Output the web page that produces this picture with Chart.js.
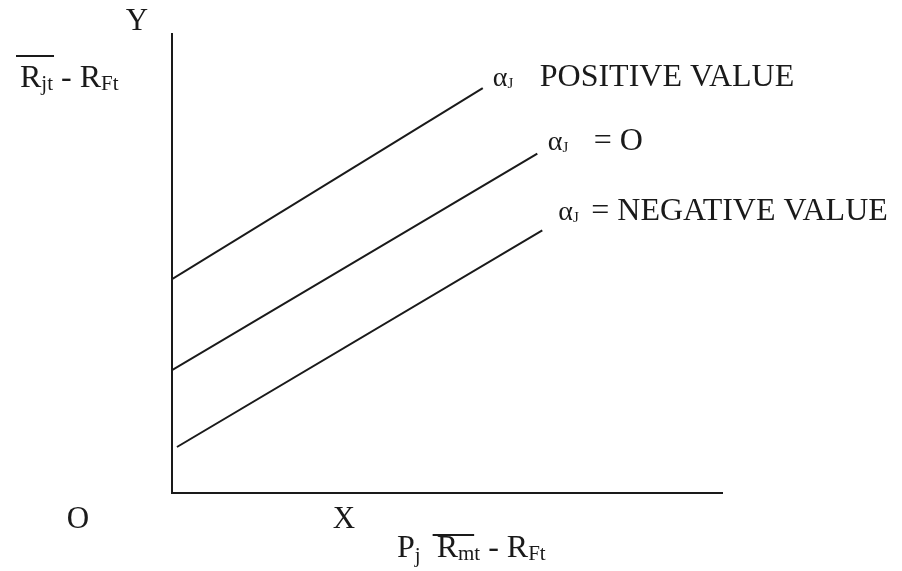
<!DOCTYPE html>
<html>
<head>
<meta charset="utf-8">
<script src="https://cdn.jsdelivr.net/npm/chart.js@4.4.1/dist/chart.umd.min.js"></script>
<style>
  html, body { margin: 0; padding: 0; background: #fff; }
  #wrap { width: 902px; height: 571px; position: relative; }
</style>
</head>
<body>
<div id="wrap"><canvas id="chart"></canvas></div>
<script>
// Characteristic lines for the three alpha cases
const lineKeys = ['positive', 'zero', 'negative'];
const lineStartX = [0, 0, 0.09];
const lineStartY = [4.65, 2.67, 1.00];
const lineEndX = [5.64, 6.63, 6.72];
const lineEndY = [8.80, 7.38, 5.71];
const lineTexts = ['POSITIVE VALUE', '= O', '= NEGATIVE VALUE'];

const axisMaxX = 10;
const axisMaxY = 10;

const SERIF = '"Liberation Serif", "Times New Roman", serif';
const INK = '#1a1a1a';
const MAIN = 31;
const TITLE = 32;
const LABEL = 32;
const SUB = 21;

// alpha label placement relative to the end of each line
const labelOffsets = [
  { dx: 10, dy: -2, textX: 47 },
  { dx: 10.5, dy: -3.5, textX: 46 },
  { dx: 16, dy: -10.5, textX: 33 }
];

// draws a row of text pieces (for subscripts) and returns where the barred part lies
function drawRuns(ctx, x, y, runs) {
  let cx = x;
  let barFrom = null, barTo = null;
  for (const r of runs) {
    ctx.font = r.size + 'px ' + SERIF;
    if (r.bar && barFrom === null) barFrom = cx;
    ctx.fillText(r.t, cx, y + (r.dy || 0));
    cx += ctx.measureText(r.t).width;
    if (r.bar) barTo = cx;
  }
  return { barFrom, barTo, end: cx };
}

function drawBar(ctx, from, to, y) {
  ctx.beginPath();
  ctx.moveTo(from, y);
  ctx.lineTo(to, y);
  ctx.stroke();
}

const axesAndLabels = {
  id: 'axesAndLabels',
  afterDatasetsDraw(chart) {
    const { ctx, scales: { x, y } } = chart;
    const ox = x.getPixelForValue(0);
    const oy = y.getPixelForValue(0);
    const top = y.getPixelForValue(axisMaxY);
    const right = x.getPixelForValue(axisMaxX);

    ctx.save();
    ctx.strokeStyle = INK;
    ctx.fillStyle = INK;
    ctx.lineWidth = 2;

    // axes
    ctx.beginPath();
    ctx.moveTo(ox, top);
    ctx.lineTo(ox, oy);
    ctx.lineTo(right, oy);
    ctx.stroke();

    ctx.textBaseline = 'alphabetic';

    // axis letters
    ctx.font = MAIN + 'px ' + SERIF;
    ctx.textAlign = 'center';
    ctx.fillText('Y', ox - 35, top - 3);
    ctx.fillText('O', ox - 94, oy + 35);
    ctx.fillText('X', ox + 172, oy + 35);
    ctx.textAlign = 'left';

    // vertical axis title
    ctx.lineWidth = 1.8;
    let r = drawRuns(ctx, ox - 152, top + 54, [
      { t: 'R', size: TITLE, bar: true },
      { t: 'jt', size: SUB, dy: 3, bar: true },
      { t: ' - R', size: TITLE },
      { t: 'Ft', size: SUB, dy: 3 }
    ]);
    drawBar(ctx, r.barFrom - 4, r.barTo + 1, top + 23);

    // horizontal axis title
    r = drawRuns(ctx, ox + 225, oy + 64, [
      { t: 'P', size: TITLE },
      { t: 'j', size: SUB, dy: 5 },
      { t: '  ', size: TITLE },
      { t: 'R', size: TITLE, bar: true },
      { t: 'mt', size: SUB, dy: 3, bar: true },
      { t: ' - R', size: TITLE },
      { t: 'Ft', size: SUB, dy: 3 }
    ]);
    drawBar(ctx, r.barFrom - 4, r.barTo - 6, oy + 42);

    // alpha labels at the line ends
    lineKeys.forEach((key, i) => {
      const px = x.getPixelForValue(lineEndX[i]) + labelOffsets[i].dx;
      const py = y.getPixelForValue(lineEndY[i]) + labelOffsets[i].dy;
      drawRuns(ctx, px, py, [
        { t: 'α', size: 28 },
        { t: 'J', size: 15, dy: 2 }
      ]);
      ctx.font = LABEL + 'px ' + SERIF;
      ctx.fillText(lineTexts[i], px + labelOffsets[i].textX, py);
    });

    ctx.restore();
  }
};

const datasets = lineKeys.map((key, i) => ({
  label: key,
  data: [
    { x: lineStartX[i], y: lineStartY[i] },
    { x: lineEndX[i], y: lineEndY[i] }
  ],
  showLine: true,
  borderColor: INK,
  borderWidth: 2,
  pointRadius: 0,
  fill: false
}));

new Chart(document.getElementById('chart'), {
  type: 'scatter',
  data: { datasets },
  options: {
    responsive: true,
    maintainAspectRatio: false,
    animation: false,
    layout: { padding: { left: 172, top: 33, right: 179, bottom: 78 } },
    scales: {
      x: { type: 'linear', min: 0, max: axisMaxX, display: false },
      y: { type: 'linear', min: 0, max: axisMaxY, display: false }
    },
    plugins: {
      legend: { display: false },
      tooltip: { enabled: false }
    }
  },
  plugins: [axesAndLabels]
});
</script>
</body>
</html>
